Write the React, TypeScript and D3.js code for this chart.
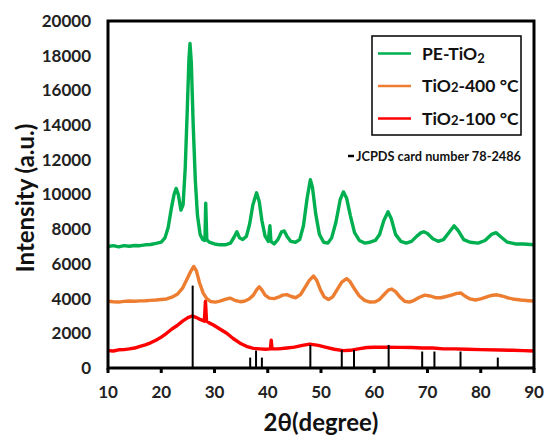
import React from "react";
import * as d3 from "d3";

type P = [number, number];

const xTicks = [10, 20, 30, 40, 50, 60, 70, 80, 90];
const yTicks = [0, 2000, 4000, 6000, 8000, 10000, 12000, 14000, 16000, 18000, 20000];

const peTiO2: P[] = [
  [10,7000],[11,7050],[12,6980],[13,7050],[14,7020],[15,7060],[16,7050],[17,7100],[18,7120],[19,7180],[20,7250],[20.7,7500],[21.3,8100],[21.9,9200],[22.4,10000],[22.8,10350],[23.2,10000],[23.7,9100],[24.1,9400],[24.5,11500],[24.9,15000],[25.2,17800],[25.4,18700],[25.65,17600],[26.0,14000],[26.4,10800],[26.8,8800],[27.3,7700],[27.8,7400],[28.2,7350],[28.35,9500],[28.55,7400],[29,7250],[30,7150],[31,7100],[32,7100],[33,7200],[33.7,7550],[34.2,7850],[34.7,7500],[35.3,7400],[36,7600],[36.6,8300],[37.2,9400],[37.9,10100],[38.4,9600],[38.9,8500],[39.5,7600],[40.1,7300],[40.4,8200],[40.6,7300],[41.2,7150],[41.9,7400],[42.6,7850],[43.1,7900],[43.6,7600],[44.3,7300],[45.2,7250],[46,7400],[46.7,8200],[47.4,9800],[48.0,10850],[48.4,10400],[49,8900],[49.7,7700],[50.5,7250],[51.3,7200],[52,7500],[52.8,8400],[53.6,9700],[54.2,10150],[54.8,9800],[55.5,8800],[56.3,7800],[57.2,7350],[58.2,7200],[59.2,7250],[60.2,7350],[61,7700],[61.8,8500],[62.6,9000],[63.2,8600],[64,7700],[65,7300],[66,7200],[67,7300],[68,7600],[68.8,7800],[69.3,7850],[70,7750],[71,7450],[72,7300],[73,7400],[74,7800],[75,8200],[75.8,7900],[76.8,7400],[78,7250],[79.5,7200],[80.8,7350],[82,7700],[82.9,7800],[83.8,7550],[85,7250],[86.5,7150],[88,7150],[90,7100]
];

const tiO2_400: P[] = [
  [10,3850],[11,3820],[12,3800],[13,3840],[14,3860],[15,3850],[16,3870],[17,3880],[18,3900],[19,3920],[20,3950],[21,3980],[22,4080],[23,4250],[24,4600],[24.8,5100],[25.5,5550],[26.1,5850],[26.6,5600],[27.2,4900],[27.9,4300],[28.6,3980],[29.3,3830],[30.2,3800],[31,3850],[32,3950],[32.9,4030],[33.8,3900],[34.8,3820],[35.6,3850],[36.5,3980],[37.3,4200],[37.9,4500],[38.4,4680],[38.9,4500],[39.5,4200],[40.3,4030],[41.2,4000],[42,4080],[42.8,4200],[43.6,4230],[44.4,4120],[45.3,4050],[46.2,4250],[47,4650],[47.8,5050],[48.6,5300],[49.2,5050],[49.9,4500],[50.6,4100],[51.4,3950],[52.2,4100],[53,4500],[53.9,4950],[54.8,5150],[55.4,5000],[56.2,4600],[57.2,4150],[58.2,3900],[59.2,3800],[60.2,3820],[61,3950],[61.9,4250],[62.7,4500],[63.3,4550],[64,4400],[64.8,4100],[65.7,3850],[66.6,3800],[67.5,3900],[68.5,4080],[69.5,4200],[70.5,4150],[71.5,4050],[72.5,4050],[73.5,4120],[74.5,4200],[75.5,4300],[76.3,4320],[77,4150],[78,3980],[79,3920],[80,3980],[81,4080],[82,4180],[83,4220],[84,4150],[85,4050],[86,3980],[87.5,3920],[89,3880],[90,3860]
];

const tiO2_100: P[] = [
  [10,1000],[11,980],[12,1050],[13,1060],[14,1100],[15,1150],[16,1250],[17,1330],[18,1450],[19,1600],[20,1780],[21,2000],[22,2250],[23,2450],[24,2700],[25,2900],[25.8,3000],[26.5,2920],[27.3,2800],[28.1,2700],[28.3,3850],[28.5,2700],[29,2600],[29.8,2480],[31,2250],[32.3,2000],[33.5,1700],[34.8,1430],[36,1250],[37.3,1130],[38.5,1100],[39.6,1080],[40.5,1100],[40.65,1600],[40.8,1100],[42,1100],[43.6,1150],[45,1200],[46.5,1300],[47.9,1380],[49.5,1300],[51,1190],[52.5,1080],[54.2,1000],[55.5,1020],[57,1100],[58.6,1180],[60,1200],[62,1200],[64.8,1190],[67,1180],[69,1150],[71,1150],[73,1100],[75,1100],[77.4,1080],[80,1060],[83.6,1040],[86,1020],[88,1000],[90,980]
];

const jcpdsPos = [25.9, 36.7, 37.8, 38.9, 48.0, 53.9, 56.2, 62.7, 69.0, 71.3, 76.2, 83.2];
const jcpdsInt = [4750, 600, 1000, 600, 1330, 1040, 1040, 1330, 950, 950, 950, 600];

const seriesNames = ["PE-TiO2", "TiO2-400 °C", "TiO2-100 °C"];
const seriesColors = ["#00B050", "#ED7D31", "#FF0000"];

const W = 546, H = 435;
const M = { left: 108, right: 534, top: 21, bottom: 368 };
const FONT = "Lato, 'Open Sans', sans-serif";

export default function App() {
  const x = d3.scaleLinear().domain([10, 90]).range([M.left, M.right]);
  const y = d3.scaleLinear().domain([0, 20000]).range([M.bottom, M.top]);
  const line = d3.line<P>().x(d => x(d[0])).y(d => y(d[1]));
  const data = [peTiO2, tiO2_400, tiO2_100];

  const legendRows = [53.5, 86, 118.5];

  return (
    <svg width={W} height={H} style={{ position: "absolute", left: 0, top: 0, background: "#fff" }} fontFamily={FONT}>
      <rect x={0} y={0} width={W} height={H} fill="#fff" />
      {data.slice().reverse().map((d, i) => {
        const idx = data.length - 1 - i;
        return <path key={idx} d={line(d) || ""} fill="none" stroke={seriesColors[idx]} strokeWidth={3.4} strokeLinejoin="round" />;
      })}
      {jcpdsPos.map((p, i) => (
        <line key={i} x1={x(p)} x2={x(p)} y1={y(0)} y2={y(jcpdsInt[i])} stroke="#000" strokeWidth={2} />
      ))}
      <rect x={M.left} y={M.top} width={M.right - M.left} height={M.bottom - M.top} fill="none" stroke="#000" strokeWidth={3} />
      {xTicks.map(t => (
        <g key={t}>
          <line x1={x(t)} x2={x(t)} y1={M.bottom} y2={M.bottom + 5} stroke="#000" strokeWidth={3} />
          <text x={x(t)} y={398} textAnchor="middle" fontSize={17} fontWeight={700} fill="#222">{t}</text>
        </g>
      ))}
      {yTicks.map(t => (
        <text key={t} x={91} y={y(t)} dy="0.35em" textAnchor="end" fontSize={17} fontWeight={700} fill="#222">{t}</text>
      ))}
      <text x={321} y={431} textAnchor="middle" fontSize={24} fontWeight={700} fill="#111">2θ(degree)</text>
      <text transform="translate(34,198) rotate(-90)" textAnchor="middle" fontSize={24} fontWeight={700} fill="#111">Intensity (a.u.)</text>
      <rect x={372} y={36} width={149} height={99} fill="#fff" stroke="#000" strokeWidth={1.5} />
      {seriesNames.map((n, i) => (
        <g key={n}>
          <line x1={378} x2={411} y1={legendRows[i]} y2={legendRows[i]} stroke={seriesColors[i]} strokeWidth={2.5} />
          <text x={422} y={legendRows[i] + 6} fontSize={17.5} fontWeight={700} fill="#111">
            {i === 0 ? (<>PE-TiO<tspan fontSize={13} dy={3}>2</tspan></>) : (<>TiO<tspan fontSize={13}>2</tspan>{n.slice(4)}</>)}
          </text>
        </g>
      ))}
      <line x1={348} x2={354} y1={156} y2={156} stroke="#000" strokeWidth={2.5} />
      <text x={356} y={160.5} fontSize={12.5} fontWeight={700} fill="#111" textLength={165} lengthAdjust="spacingAndGlyphs">JCPDS card number 78-2486</text>
    </svg>
  );
}
